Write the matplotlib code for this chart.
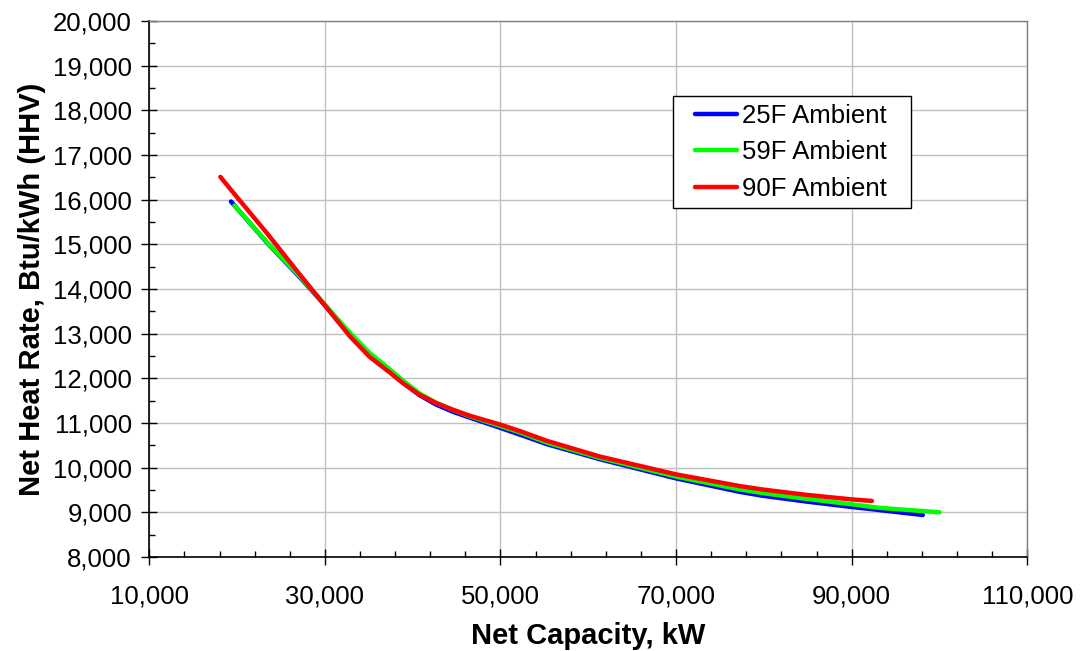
import matplotlib
matplotlib.use("Agg")
import matplotlib.pyplot as plt
from matplotlib.patches import Rectangle
from matplotlib.ticker import FuncFormatter, MultipleLocator

plt.rcParams["font.family"] = ["Liberation Sans", "DejaVu Sans"]

# Net capacity (kW) and net heat rate (Btu/kWh, HHV)
cap_25f = [19300, 23400, 27200, 30000, 32900, 35100, 37400, 38900, 40800,
           42700, 44600, 46500, 50000, 52200, 55300, 61300, 70000, 77200,
           79900, 84900, 90000, 93200, 98100]
hr_25f = [15960, 15040, 14250, 13640, 12960, 12520, 12150, 11900, 11620,
          11410, 11250, 11120, 10890, 10740, 10525, 10190, 9760, 9460,
          9370, 9240, 9120, 9050, 8940]

cap_59f = [19700, 23400, 27200, 30000, 32900, 35100, 37400, 38900, 40800,
           42700, 44600, 46500, 50000, 52200, 55300, 61300, 70000, 77200,
           79900, 84900, 90000, 93200, 100000]
hr_59f = [15870, 15050, 14270, 13650, 13010, 12570, 12200, 11950, 11660,
          11450, 11290, 11150, 10930, 10790, 10560, 10220, 9800, 9515,
          9430, 9300, 9180, 9100, 9000]

cap_90f = [18100, 19600, 23400, 27200, 30000, 32900, 35100, 37400, 38900,
           40800, 42700, 44600, 46500, 50000, 52200, 55300, 61300, 70000,
           77200, 79900, 84900, 90000, 92300]
hr_90f = [16510, 16150, 15250, 14310, 13630, 12930, 12480, 12130, 11890,
          11630, 11445, 11296, 11163, 10963, 10820, 10600, 10250, 9850,
          9590, 9510, 9390, 9290, 9255]

series = [
    ("25F Ambient", cap_25f, hr_25f, "#0000ff"),
    ("59F Ambient", cap_59f, hr_59f, "#00ff00"),
    ("90F Ambient", cap_90f, hr_90f, "#ff0000"),
]


def main():
    fig = plt.figure(figsize=(10.81, 6.51), dpi=100)
    ax = fig.add_axes([0.1381, 0.1444, 0.8122, 0.8233])

    for label, x, y, color in series:
        ax.plot(x, y, color=color, lw=3.2, label=label, solid_capstyle="round",
                solid_joinstyle="round")

    ax.set_xlim(10000, 110000)
    ax.set_ylim(8000, 20000)
    ax.xaxis.set_major_locator(MultipleLocator(20000, offset=10000))
    ax.xaxis.set_minor_locator(MultipleLocator(4000, offset=2000))
    ax.yaxis.set_major_locator(MultipleLocator(1000))
    ax.yaxis.set_minor_locator(MultipleLocator(500))
    fmt = FuncFormatter(lambda v, pos: f"{v:,.0f}")
    ax.xaxis.set_major_formatter(fmt)
    ax.yaxis.set_major_formatter(fmt)

    ax.grid(True, which="major", color="#c0c0c0", lw=1.0)
    ax.set_axisbelow(True)

    ax.tick_params(which="major", direction="inout", length=11, width=1,
                   labelsize=18.5, color="black")
    ax.tick_params(which="minor", direction="in", length=4, width=1)
    ax.tick_params(axis="x", which="major", pad=14)
    ax.tick_params(axis="y", which="major", pad=7)

    for side in ("left", "bottom"):
        ax.spines[side].set_color("black")
        ax.spines[side].set_linewidth(1.2)
    for side in ("top", "right"):
        ax.spines[side].set_color("#808080")
        ax.spines[side].set_linewidth(1.0)

    ax.set_xlabel("Net Capacity, kW", fontsize=21, fontweight="bold", labelpad=10)
    ax.set_ylabel("Net Heat Rate, Btu/kWh (HHV)", fontsize=21,
                  fontweight="bold", labelpad=5)

    ax.add_patch(Rectangle((0.596, 0.651), 0.271, 0.209, transform=ax.transAxes,
                           facecolor="white", edgecolor="black", lw=1, zorder=4))
    ax.legend(loc="upper left", bbox_to_anchor=(0.6215, 0.846), frameon=False,
              fontsize=18.5, borderpad=0, borderaxespad=0, handlelength=1.65,
              handletextpad=0.2, labelspacing=0.5).set_zorder(5)

    fig.savefig("out.png", dpi=100)


if __name__ == "__main__":
    main()
